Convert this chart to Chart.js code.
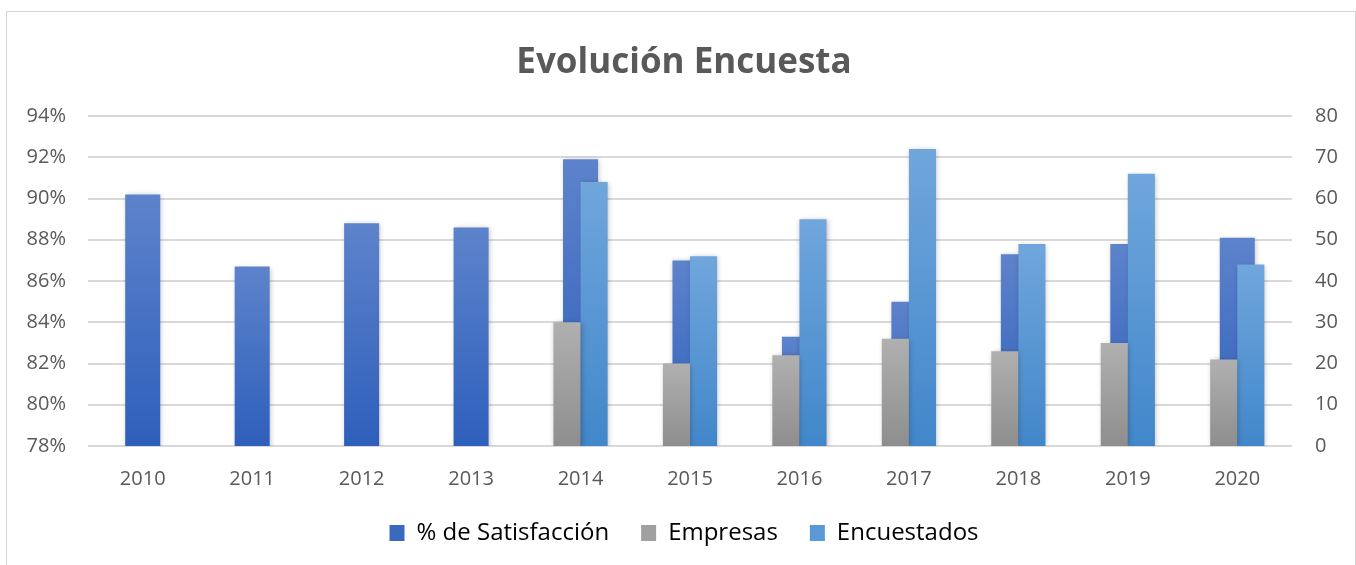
<!DOCTYPE html>
<html>
<head>
<meta charset="utf-8">
<script src="https://cdn.jsdelivr.net/npm/chart.js@4.4.1/dist/chart.umd.min.js"></script>
<style>
  html, body { margin: 0; padding: 0; background: #ffffff; }
  #frame { position: absolute; left: 6px; top: 11px; width: 1350px; height: 560px; border: 1px solid #d4d4d4; box-sizing: border-box; }
  #wrap { position: absolute; left: 0; top: 0; width: 1356px; height: 565px; }
</style>
</head>
<body>
<div id="frame"></div>
<div id="wrap"><canvas id="c" width="1356" height="565"></canvas></div>
<script>
const categories = ['2010','2011','2012','2013','2014','2015','2016','2017','2018','2019','2020'];
const satisfaccion = [0.902, 0.867, 0.888, 0.886, 0.919, 0.870, 0.833, 0.850, 0.873, 0.878, 0.881];
const empresas = [null, null, null, null, 30, 20, 22, 26, 23, 25, 21];
const encuestados = [null, null, null, null, 64, 46, 55, 72, 49, 66, 44];
const leftTicks = { min: 0.78, max: 0.94, step: 0.02 };
const rightTicks = { min: 0, max: 80, step: 10 };

function barGradient(top, bottom) {
  return function(ctx) {
    const chart = ctx.chart;
    const area = chart.chartArea;
    if (!area || ctx.type !== 'data' || ctx.raw == null) return bottom;
    const yScale = chart.scales[ctx.dataset.yAxisID];
    const yTop = yScale.getPixelForValue(ctx.raw);
    if (!isFinite(yTop) || area.bottom - yTop < 1) return bottom;
    const g = chart.ctx.createLinearGradient(0, yTop, 0, area.bottom);
    g.addColorStop(0, top);
    g.addColorStop(1, bottom);
    return g;
  };
}

const shadowPlugin = {
  id: 'shadow',
  beforeDatasetDraw(chart) {
    const c = chart.ctx;
    c.save();
    c.shadowColor = 'rgba(0,0,0,0.25)';
    c.shadowBlur = 5;
    c.shadowOffsetX = 1;
    c.shadowOffsetY = 1;
  },
  afterDatasetDraw(chart) { chart.ctx.restore(); }
};

const tickFont = { family: 'Open Sans', size: 20 };

new Chart(document.getElementById('c'), {
  type: 'bar',
  data: {
    labels: categories,
    datasets: [
      { label: '% de Satisfacción', data: satisfaccion, yAxisID: 'y', order: 2, grouped: false,
        backgroundColor: barGradient('#5d83cb', '#2e5fbb'), barPercentage: 0.32, categoryPercentage: 1.0 },
      { label: 'Empresas', data: empresas, yAxisID: 'y2', order: 1,
        backgroundColor: barGradient('#b0b0b0', '#8e8e8e'), barPercentage: 1.0, categoryPercentage: 0.495 },
      { label: 'Encuestados', data: encuestados, yAxisID: 'y2', order: 1,
        backgroundColor: barGradient('#70a6dc', '#4187ca'), barPercentage: 1.0, categoryPercentage: 0.495 }
    ]
  },
  plugins: [shadowPlugin],
  options: {
    responsive: false,
    animation: false,
    layout: { padding: { left: 12, right: 0, top: 0, bottom: 10 } },
    plugins: {
      title: { display: true, text: 'Evolución Encuesta', color: '#595959',
        font: { family: 'Open Sans', size: 35, weight: 'bold' }, padding: { top: 42, bottom: 32 } },
      legend: { position: 'bottom',
        labels: { color: '#000000', font: { family: 'Open Sans', size: 24 }, boxWidth: 15, boxHeight: 16, padding: 32,
          generateLabels(chart) {
            const cols = ['#3a69c0', '#a0a0a0', '#5a98d6'];
            return chart.data.datasets.map((d, i) => ({ text: d.label, fillStyle: cols[i], strokeStyle: cols[i], lineWidth: 0, datasetIndex: i, fontColor: '#000' }));
          } } },
      tooltip: { enabled: false }
    },
    scales: {
      x: { position: 'bottom', grid: { display: false }, border: { display: false },
        ticks: { color: '#595959', font: tickFont, padding: 13, autoSkip: false, maxRotation: 0 },
        afterFit(s) { s.height = 43; } },
      y: { position: 'left', min: leftTicks.min, max: leftTicks.max,
        grid: { color: '#d9d9d9', lineWidth: 2, drawTicks: false }, border: { display: false },
        ticks: { stepSize: leftTicks.step, color: '#595959', font: tickFont, padding: 22,
          callback: v => Math.round(v * 100) + '%' },
        afterFit(s) { s.width = 76; } },
      y2: { position: 'right', min: rightTicks.min, max: rightTicks.max,
        grid: { display: false, drawTicks: false }, border: { display: false },
        ticks: { stepSize: rightTicks.step, color: '#595959', font: tickFont, padding: 23 },
        afterFit(s) { s.width = 64; } }
    }
  }
});
</script>
</body>
</html>
